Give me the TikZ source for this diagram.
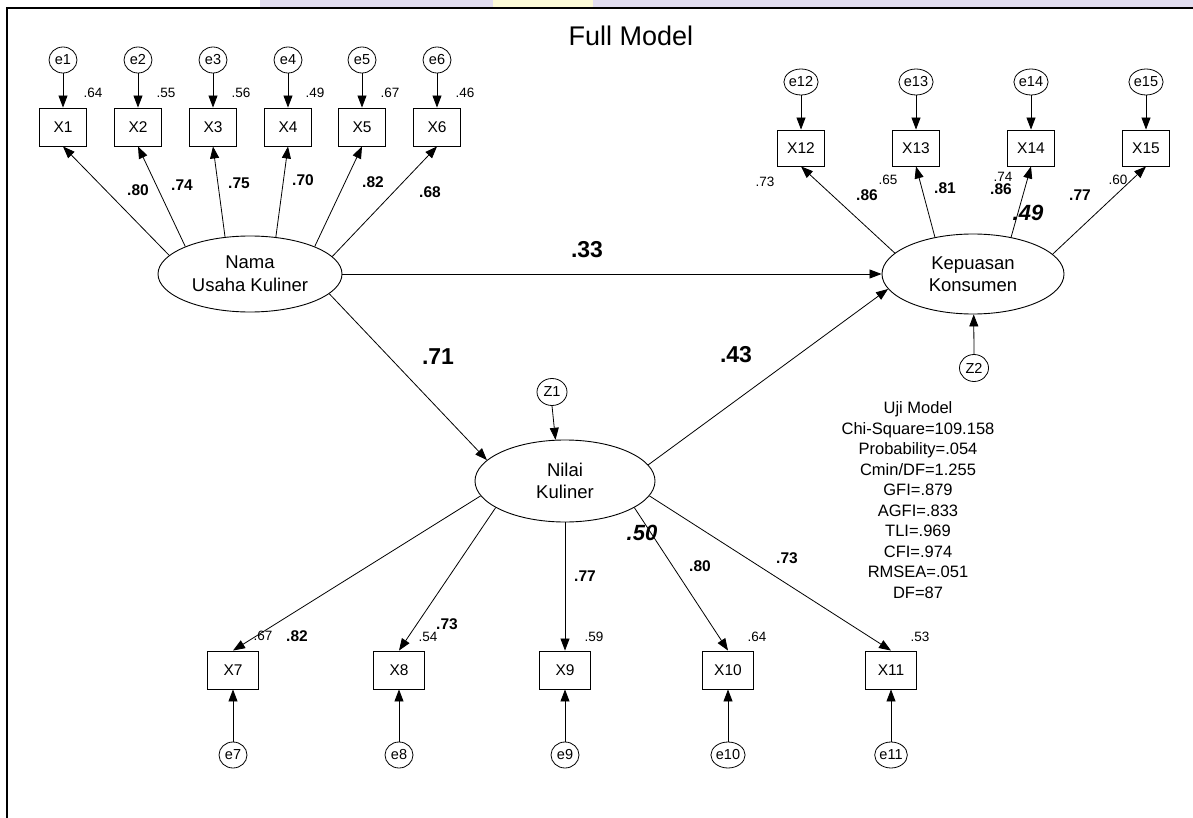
\documentclass[tikz,border=0pt]{standalone}
\usepackage{fontspec}
\setmainfont{Liberation Sans}
\usetikzlibrary{arrows.meta,shapes.geometric}
\definecolor{wmlav}{RGB}{226,222,240}
\definecolor{wmyel}{RGB}{252,250,215}
\begin{document}
\begin{tikzpicture}[x=1pt,y=-1pt,
  obs/.style={draw,line width=0.9pt,minimum width=47pt,minimum height=38pt,inner sep=0pt,font=\fontsize{15.5}{18}\selectfont},
  obsb/.style={obs,minimum width=51pt},
  err/.style={draw,ellipse,line width=0.8pt,minimum width=28pt,minimum height=26pt,inner sep=0pt,font=\fontsize{14.5}{16}\selectfont},
  lat/.style={draw,ellipse,line width=0.9pt,inner sep=0pt,align=center},
  arr/.style={-{Triangle[length=12pt,width=9pt]},line width=0.8pt},
  var/.style={inner sep=0pt,font=\fontsize{13.5}{15}\selectfont},
  ld/.style={inner sep=0pt,font=\bfseries\fontsize{15.5}{17}\selectfont},
  big/.style={inner sep=0pt,font=\bfseries\fontsize{23}{25}\selectfont},
  bigit/.style={inner sep=0pt,font=\bfseries\itshape\fontsize{22}{24}\selectfont},
]
\useasboundingbox (0,0) rectangle (1193,818);
% watermark strip
\fill[wmlav] (260,0) rectangle (1193,7);
\fill[wmyel] (493,0) rectangle (593,7);
% frame
\draw[line width=2pt] (7,818) -- (7,8) -- (1193,8);

\node[inner sep=0pt,font=\fontsize{27}{30}\selectfont] (title) at (631,36) {Full Model};

% latent variables
\node[lat,minimum width=184pt,minimum height=76pt,font=\fontsize{18.5}{23}\selectfont] (nuk) at (250,274) {Nama\\Usaha Kuliner};
\node[lat,minimum width=182pt,minimum height=80pt,font=\fontsize{18.5}{22}\selectfont] (kk) at (973,274) {Kepuasan\\Konsumen};
\node[lat,minimum width=180pt,minimum height=82pt,font=\fontsize{18.5}{22}\selectfont] (nk) at (565,481) {Nilai\\Kuliner};

% top-left indicators
\foreach \i/\x in {1/63,2/138,3/213,4/288,5/362,6/437}{
  \node[err] (e\i) at (\x,60) {e\i};
  \node[obs] (x\i) at (\x,127) {X\i};
  \draw[arr] (e\i) -- (x\i);
}
\foreach \i/\a in {1/167,2/157,3/124,4/55,5/23,6/12}{
  \draw[arr] (nuk.\a) -- (x\i.south);
}
\node[var] (v1) at (93,93) {.64};
\node[var] (v2) at (166,93) {.55};
\node[var] (v3) at (241,93) {.56};
\node[var] (v4) at (315,93) {.49};
\node[var] (v5) at (390,93) {.67};
\node[var] (v6) at (465,93) {.46};
\node[ld] (l1) at (138,190) {.80};
\node[ld] (l2) at (182,185) {.74};
\node[ld] (l3) at (239,183) {.75};
\node[ld] (l4) at (303,180) {.70};
\node[ld] (l5) at (373,182) {.82};
\node[ld] (l6) at (430,192) {.68};

% top-right indicators
\foreach \i/\x in {12/801,13/916,14/1031,15/1146}{
  \node[err] (e\i) at (\x,82) {e\i};
  \node[obs,minimum height=36pt] (x\i) at (\x,148) {X\i};
  \draw[arr] (e\i) -- (x\i);
}
\foreach \i/\a in {12/165,13/136,14/44,15/14}{
  \draw[arr] (kk.\a) -- (x\i.south);
}
\node[var] (v12) at (765,182) {.73};
\node[ld] (l12) at (867,195) {.86};
\node[var] (v13) at (888,180) {.65};
\node[ld] (l13) at (945,188) {.81};
\node[var] (v14) at (1003,177) {.74};
\node[ld] (l14) at (1001,189) {.86};
\node[bigit] (l14b) at (1028,213) {.49};
\node[ld] (l15) at (1080,195) {.77};
\node[var] (v15) at (1118,180) {.60};

% bottom indicators
\foreach \i/\x in {7/233,8/399,9/565,10/728,11/891}{
  \node[err] (e\i) at (\x,755) {e\i};
  \node[obsb] (x\i) at (\x,670) {X\i};
  \draw[arr] (e\i) -- (x\i);
}
\foreach \i/\a in {7/190,8/201,9/270,10/339,11/350}{
  \draw[arr] (nk.\a) -- (x\i.north);
}
\node[var] (v7) at (263,636) {.67};
\node[ld] (l7) at (297,636) {.82};
\node[var] (v8) at (428,637) {.54};
\node[ld] (l8) at (447,624) {.73};
\node[ld] (l9) at (585,576) {.77};
\node[var] (v9) at (594,637) {.59};
\node[bigit] (l10b) at (642,533) {.50};
\node[ld] (l10) at (700,566) {.80};
\node[var] (v10) at (757,637) {.64};
\node[ld] (l11) at (787,558) {.73};
\node[var] (v11) at (920,637) {.53};

% disturbances
\node[err,minimum width=30pt,minimum height=27pt] (z1) at (552,392) {Z1};
\node[err,minimum width=29pt,minimum height=27pt] (z2) at (974,368) {Z2};
\draw[arr] (z1.south) -- (nk.103);
\draw[arr] (z2.north) -- (kk.-89);

% structural paths
\draw[arr] (nuk.east) -- (kk.west);
\draw[arr] (nuk.-14) -- (nk.165);
\draw[arr] (nk.11) -- (kk.190);
\node[big] (p1) at (587,250) {.33};
\node[big] (p2) at (438,357) {.71};
\node[big] (p3) at (736,355) {.43};

% fit statistics
\node[inner sep=0pt,align=center,font=\fontsize{16.5}{20.5}\selectfont] (fit) at (918,500)
  {Uji Model\\Chi-Square=109.158\\Probability=.054\\Cmin/DF=1.255\\GFI=.879\\AGFI=.833\\TLI=.969\\CFI=.974\\RMSEA=.051\\DF=87};
\end{tikzpicture}
\end{document}
